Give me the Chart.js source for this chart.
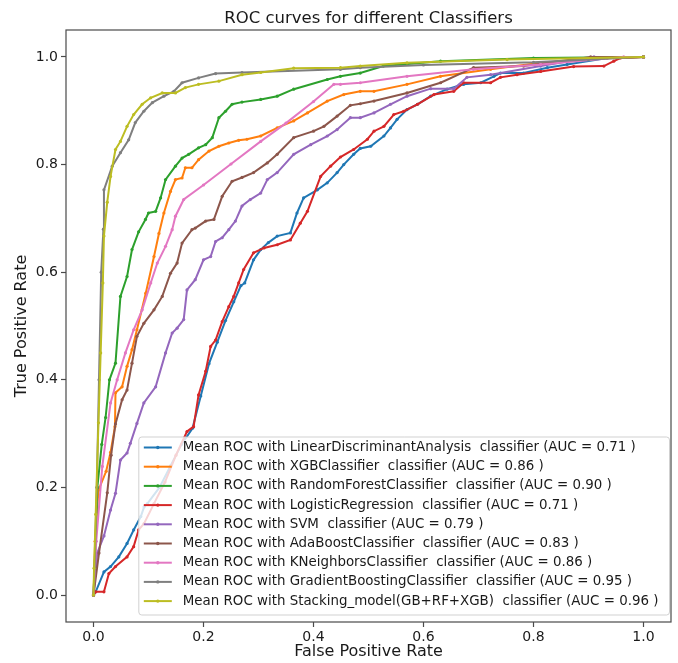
<!DOCTYPE html>
<html>
<head>
<meta charset="utf-8">
<script src="https://cdn.jsdelivr.net/npm/chart.js@4.4.1/dist/chart.umd.min.js"></script>
<style>
html,body{margin:0;padding:0;background:#fff;}
#wrap{width:678px;height:663px;position:relative;}
</style>
</head>
<body>
<div id="wrap"><canvas id="c" width="678" height="663"></canvas></div>
<script>
// ---------- DATA ----------
const chartTitle = 'ROC curves for different Classifiers';
const xAxisTitle = 'False Positive Rate';
const yAxisTitle = 'True Positive Rate';
const xTickValues = [0, 0.2, 0.4, 0.6, 0.8, 1.0];
const yTickValues = [0, 0.2, 0.4, 0.6, 0.8, 1.0];

const modelNames = ['LinearDiscriminantAnalysis', 'XGBClassifier', 'RandomForestClassifier',
  'LogisticRegression', 'SVM', 'AdaBoostClassifier', 'KNeighborsClassifier',
  'GradientBoostingClassifier', 'Stacking_model(GB+RF+XGB)'];
const aucValues = ['0.71', '0.86', '0.90', '0.71', '0.79', '0.83', '0.86', '0.95', '0.96'];
const seriesColors = ['#1f77b4', '#ff7f0e', '#2ca02c', '#d62728', '#9467bd', '#8c564b', '#e377c2', '#7f7f7f', '#bcbd22'];

const ldaFpr = [0, 0.004, 0.019, 0.031, 0.046, 0.061, 0.073, 0.086, 0.092, 0.098, 0.12, 0.14, 0.16, 0.18, 0.195, 0.21, 0.225, 0.24, 0.255, 0.268, 0.275, 0.291, 0.304, 0.318, 0.334, 0.358, 0.37, 0.382, 0.407, 0.425, 0.443, 0.455, 0.473, 0.485, 0.504, 0.528, 0.54, 0.552, 0.57, 0.589, 0.613, 0.643, 0.673, 0.704, 0.728, 0.74, 0.782, 0.825, 0.861, 0.934, 1.0];
const ldaTpr = [0, 0.006, 0.043, 0.053, 0.071, 0.096, 0.121, 0.146, 0.164, 0.17, 0.2, 0.24, 0.28, 0.31, 0.37, 0.43, 0.47, 0.51, 0.545, 0.575, 0.58, 0.623, 0.642, 0.655, 0.667, 0.673, 0.71, 0.738, 0.753, 0.766, 0.785, 0.8, 0.819, 0.83, 0.834, 0.853, 0.868, 0.884, 0.902, 0.912, 0.927, 0.94, 0.949, 0.952, 0.964, 0.97, 0.97, 0.98, 0.986, 0.998, 1.0];

const xgbFpr = [0, 0.003, 0.009, 0.023, 0.031, 0.039, 0.04, 0.052, 0.061, 0.07, 0.079, 0.095, 0.11, 0.119, 0.128, 0.14, 0.149, 0.161, 0.167, 0.179, 0.191, 0.21, 0.228, 0.246, 0.264, 0.279, 0.304, 0.334, 0.364, 0.389, 0.425, 0.455, 0.485, 0.51, 0.57, 0.631, 0.722, 0.813, 0.934, 1.0];
const xgbTpr = [0, 0.1, 0.195, 0.23, 0.265, 0.313, 0.376, 0.387, 0.425, 0.456, 0.493, 0.561, 0.629, 0.672, 0.71, 0.75, 0.772, 0.775, 0.794, 0.794, 0.809, 0.825, 0.834, 0.84, 0.845, 0.847, 0.853, 0.868, 0.881, 0.896, 0.918, 0.93, 0.936, 0.936, 0.949, 0.964, 0.977, 0.989, 0.998, 1.0];

const rfFpr = [0, 0.004, 0.007, 0.015, 0.022, 0.029, 0.04, 0.049, 0.061, 0.07, 0.082, 0.0945, 0.1, 0.113, 0.122, 0.131, 0.149, 0.161, 0.173, 0.191, 0.204, 0.216, 0.228, 0.24, 0.252, 0.27, 0.304, 0.334, 0.364, 0.425, 0.449, 0.485, 0.527, 0.631, 0.8, 1.0];
const rfTpr = [0, 0.1, 0.2, 0.28, 0.33, 0.4, 0.431, 0.555, 0.592, 0.642, 0.675, 0.698, 0.71, 0.713, 0.738, 0.772, 0.797, 0.812, 0.819, 0.831, 0.837, 0.85, 0.887, 0.899, 0.912, 0.916, 0.921, 0.927, 0.94, 0.958, 0.964, 0.97, 0.983, 0.992, 0.998, 1.0];

const lrFpr = [0, 0.004, 0.019, 0.028, 0.04, 0.061, 0.073, 0.082, 0.092, 0.11, 0.13, 0.15, 0.17, 0.182, 0.191, 0.204, 0.213, 0.222, 0.234, 0.246, 0.255, 0.264, 0.273, 0.291, 0.31, 0.334, 0.358, 0.376, 0.389, 0.413, 0.431, 0.449, 0.473, 0.498, 0.51, 0.528, 0.546, 0.564, 0.589, 0.619, 0.655, 0.673, 0.722, 0.74, 0.77, 0.813, 0.873, 0.928, 0.946, 0.958, 1.0];
const lrTpr = [0, 0.006, 0.006, 0.04, 0.053, 0.071, 0.09, 0.121, 0.133, 0.17, 0.21, 0.26, 0.304, 0.313, 0.372, 0.416, 0.462, 0.474, 0.508, 0.536, 0.555, 0.58, 0.605, 0.636, 0.645, 0.651, 0.66, 0.691, 0.713, 0.778, 0.797, 0.814, 0.828, 0.847, 0.862, 0.871, 0.893, 0.899, 0.912, 0.93, 0.936, 0.952, 0.952, 0.962, 0.967, 0.973, 0.982, 0.983, 0.992, 0.998, 1.0];

const svmFpr = [0, 0.0067, 0.019, 0.031, 0.04, 0.049, 0.061, 0.067, 0.079, 0.0915, 0.113, 0.131, 0.143, 0.152, 0.164, 0.17, 0.185, 0.2, 0.213, 0.222, 0.234, 0.246, 0.258, 0.27, 0.285, 0.304, 0.316, 0.334, 0.364, 0.395, 0.425, 0.443, 0.467, 0.485, 0.51, 0.54, 0.57, 0.613, 0.655, 0.679, 0.722, 0.813, 0.91, 1.0];
const svmTpr = [0, 0.078, 0.11, 0.158, 0.189, 0.251, 0.264, 0.282, 0.319, 0.357, 0.387, 0.45, 0.487, 0.496, 0.512, 0.567, 0.586, 0.623, 0.629, 0.657, 0.664, 0.679, 0.695, 0.723, 0.735, 0.747, 0.772, 0.785, 0.819, 0.837, 0.853, 0.865, 0.887, 0.887, 0.896, 0.912, 0.927, 0.941, 0.941, 0.962, 0.967, 0.983, 1.0, 1.0];

const adaFpr = [0, 0.01, 0.025, 0.032, 0.04, 0.052, 0.061, 0.07, 0.079, 0.0915, 0.11, 0.125, 0.14, 0.152, 0.161, 0.179, 0.185, 0.204, 0.219, 0.234, 0.252, 0.27, 0.291, 0.316, 0.334, 0.364, 0.4, 0.419, 0.443, 0.467, 0.485, 0.51, 0.57, 0.631, 0.691, 0.782, 0.904, 1.0];
const adaTpr = [0, 0.078, 0.19, 0.26, 0.318, 0.363, 0.381, 0.431, 0.481, 0.505, 0.53, 0.555, 0.598, 0.617, 0.654, 0.679, 0.682, 0.695, 0.698, 0.741, 0.769, 0.776, 0.785, 0.803, 0.819, 0.85, 0.862, 0.871, 0.89, 0.91, 0.913, 0.918, 0.933, 0.952, 0.98, 0.983, 1.0, 1.0];

const knnFpr = [0, 0.005, 0.016, 0.031, 0.043, 0.058, 0.073, 0.0885, 0.104, 0.116, 0.131, 0.143, 0.149, 0.164, 0.2, 0.25, 0.304, 0.35, 0.4, 0.437, 0.449, 0.485, 0.57, 0.691, 0.813, 0.964, 1.0];
const knnTpr = [0, 0.1, 0.239, 0.357, 0.4, 0.45, 0.493, 0.53, 0.58, 0.617, 0.648, 0.679, 0.704, 0.735, 0.762, 0.801, 0.843, 0.877, 0.917, 0.949, 0.949, 0.952, 0.964, 0.977, 0.986, 1.0, 1.0];

const gbFpr = [0, 0.002, 0.006, 0.01, 0.014, 0.018, 0.019, 0.034, 0.049, 0.064, 0.076, 0.0915, 0.107, 0.128, 0.146, 0.161, 0.191, 0.222, 0.27, 0.449, 0.485, 0.6, 0.8, 0.9, 1.0];
const gbTpr = [0, 0.05, 0.2, 0.4, 0.6, 0.68, 0.753, 0.797, 0.822, 0.846, 0.878, 0.899, 0.915, 0.927, 0.936, 0.952, 0.961, 0.969, 0.971, 0.977, 0.98, 0.985, 0.99, 0.995, 1.0];

const stackFpr = [0, 0.001, 0.004, 0.009, 0.013, 0.017, 0.019, 0.025, 0.031, 0.04, 0.049, 0.061, 0.073, 0.0885, 0.104, 0.125, 0.149, 0.167, 0.191, 0.228, 0.27, 0.304, 0.364, 0.449, 0.485, 0.57, 0.752, 1.0];
const stackTpr = [0, 0.05, 0.15, 0.32, 0.45, 0.58, 0.667, 0.73, 0.778, 0.828, 0.843, 0.871, 0.893, 0.912, 0.924, 0.933, 0.933, 0.943, 0.949, 0.955, 0.967, 0.971, 0.979, 0.98, 0.983, 0.989, 0.995, 1.0];

const fprSeries = [ldaFpr, xgbFpr, rfFpr, lrFpr, svmFpr, adaFpr, knnFpr, gbFpr, stackFpr];
const tprSeries = [ldaTpr, xgbTpr, rfTpr, lrTpr, svmTpr, adaTpr, knnTpr, gbTpr, stackTpr];

// ---------- CHART ----------
const FONT = "'DejaVu Sans', 'Liberation Sans', sans-serif";
const TEXT = '#1a1a1a';
const SPINE = '#4a4a4a';

const datasets = modelNames.map((name, i) => ({
  label: 'Mean ROC with ' + name + '  classifier (AUC = ' + aucValues[i] + ' )',
  data: fprSeries[i].map((x, j) => ({ x: x, y: tprSeries[i][j] })),
  borderColor: seriesColors[i],
  backgroundColor: seriesColors[i],
  pointBackgroundColor: seriesColors[i],
  pointBorderWidth: 0,
  pointRadius: 1.6,
  borderWidth: 2,
  tension: 0,
  fill: false,
  order: modelNames.length - i
}));

const titlePlacePlugin = {
  id: 'titlePlace',
  afterLayout(chart) {
    if (chart.titleBlock) {
      chart.titleBlock.left = chart.chartArea.left;
      chart.titleBlock.right = chart.chartArea.right;
    }
  }
};

const framePlugin = {
  id: 'frame',
  afterDatasetsDraw(chart) {
    const { ctx, chartArea: a } = chart;
    ctx.save();
    ctx.strokeStyle = SPINE;
    ctx.lineWidth = 1.2;
    ctx.strokeRect(a.left, a.top, a.right - a.left, a.bottom - a.top);
    ctx.restore();
  }
};

const boxLegendPlugin = {
  id: 'boxLegend',
  afterDraw(chart) {
    const { ctx, chartArea: a } = chart;
    const ds = chart.data.datasets;
    const fs = 13.4, rowH = 19.2;
    ctx.save();
    ctx.font = fs + 'px ' + FONT;
    let maxW = 0;
    ds.forEach(d => { maxW = Math.max(maxW, ctx.measureText(d.label).width); });
    const padL = 5, lineLen = 28, gap = 11, padR = 11;
    const w = padL + lineLen + gap + maxW + padR;
    const h = ds.length * rowH + 5.2;
    const right = a.right - 1.5, bottom = a.bottom - 7;
    const left = right - w, top = bottom - h;
    ctx.beginPath();
    ctx.roundRect(left, top, w, h, 3);
    ctx.fillStyle = 'rgba(255,255,255,0.8)';
    ctx.fill();
    ctx.strokeStyle = 'rgba(204,204,204,0.9)';
    ctx.lineWidth = 1;
    ctx.stroke();
    ds.forEach((d, i) => {
      const y = top + 10.5 + i * rowH;
      ctx.strokeStyle = d.borderColor;
      ctx.lineWidth = 2;
      ctx.beginPath();
      ctx.moveTo(left + padL, y);
      ctx.lineTo(left + padL + lineLen, y);
      ctx.stroke();
      ctx.fillStyle = d.borderColor;
      ctx.beginPath();
      ctx.arc(left + padL + lineLen / 2, y, 1.7, 0, Math.PI * 2);
      ctx.fill();
      ctx.fillStyle = TEXT;
      ctx.textBaseline = 'middle';
      ctx.textAlign = 'left';
      ctx.fillText(d.label, left + padL + lineLen + gap, y);
    });
    ctx.restore();
  }
};

new Chart(document.getElementById('c'), {
  type: 'line',
  data: { datasets: datasets },
  options: {
    responsive: false,
    animation: false,
    events: [],
    layout: { padding: { left: 0, right: 7, top: 0, bottom: 0 } },
    plugins: {
      legend: { display: false },
      tooltip: { enabled: false },
      title: {
        display: true,
        text: chartTitle,
        color: TEXT,
        font: { family: FONT, size: 16.5, weight: 'normal' },
        padding: { top: 9, bottom: 1.2 }
      }
    },
    scales: {
      x: {
        type: 'linear',
        min: -0.05, max: 1.05,
        afterBuildTicks: s => { s.ticks = xTickValues.map(v => ({ value: v })); },
        afterFit: s => { s.height = 41; },
        ticks: { callback: v => Number(v).toFixed(1), color: TEXT, font: { family: FONT, size: 14 }, padding: 2, maxRotation: 0, autoSkip: false },
        grid: { drawOnChartArea: false, drawTicks: true, tickLength: 5, tickColor: SPINE, tickWidth: 1.2 },
        border: { display: false },
        title: { display: true, text: xAxisTitle, color: TEXT, font: { family: FONT, size: 16 }, padding: { top: 0, bottom: 2 } }
      },
      y: {
        type: 'linear',
        min: -0.05, max: 1.05,
        afterBuildTicks: s => { s.ticks = yTickValues.map(v => ({ value: v })); },
        afterFit: s => { s.width = 66; },
        ticks: { callback: v => Number(v).toFixed(1), color: TEXT, font: { family: FONT, size: 14 }, padding: 3, autoSkip: false },
        grid: { drawOnChartArea: false, drawTicks: true, tickLength: 5, tickColor: SPINE, tickWidth: 1.2 },
        border: { display: false },
        title: { display: true, text: yAxisTitle, color: TEXT, font: { family: FONT, size: 16 }, padding: { top: 12, bottom: 0 } }
      }
    }
  },
  plugins: [titlePlacePlugin, framePlugin, boxLegendPlugin]
});
</script>
</body>
</html>
